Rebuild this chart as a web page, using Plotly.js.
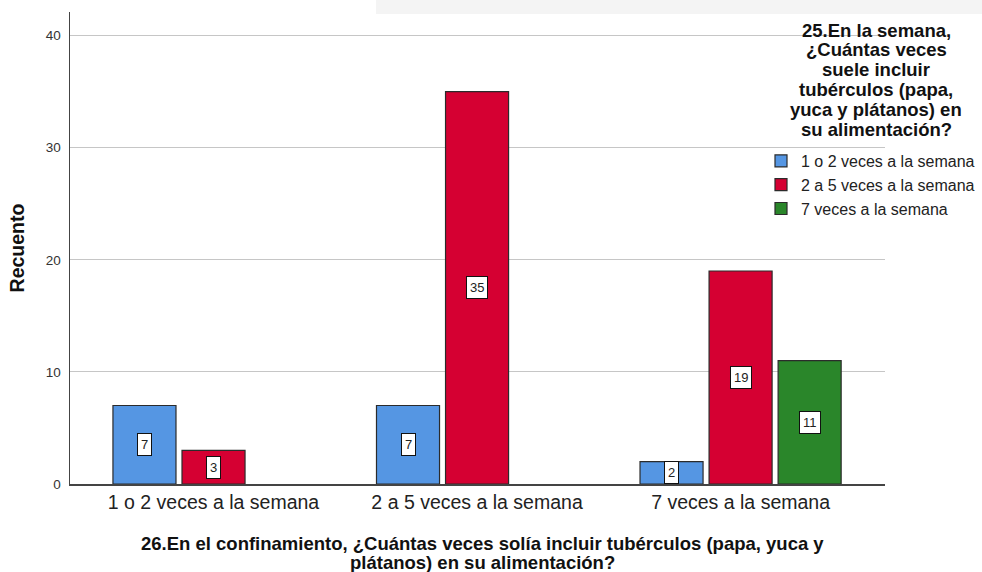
<!DOCTYPE html>
<html><head><meta charset="utf-8">
<script src="https://cdn.plot.ly/plotly-3.0.1.min.js"></script>
<style>html,body{margin:0;padding:0;background:#fff}#chart{width:982px;height:572px}</style>
</head><body><div id="chart"></div>
<script>
const categories = ["1 o 2 veces a la semana", "2 a 5 veces a la semana", "7 veces a la semana"];
const seriesNames = ["1 o 2 veces a la semana", "2 a 5 veces a la semana", "7 veces a la semana"];
const serie1 = [7, 7, 2];
const serie2 = [3, 35, 19];
const serie3 = [null, null, 11];
const yTicks = [0, 10, 20, 30, 40];
const legendTitleLines = ["25.En la semana,", "¿Cuántas veces", "suele incluir", "tubérculos (papa,", "yuca y plátanos) en", "su alimentación?"];
const xTitleLines = ["26.En el confinamiento, ¿Cuántas veces solía incluir tubérculos (papa, yuca y", "plátanos) en su alimentación?"];
const yTitle = "Recuento";

const FONT = "Arial, Liberation Sans, sans-serif";
const colors = ["#5596E3", "#D50032", "#2A862A"];
const allSeries = [serie1, serie2, serie3];
const bargap = 0.214, bargroupgap = 0.087;
const slot = (1 - bargap) / allSeries.length;

// pixel geometry helpers
const W = 982, H = 572, ML = 70, MR = 97, MT = 12, MB = 88;
const PW = W - ML - MR, PH = H - MT - MB;
const px2x = p => (p - ML) / PW;
const px2y = p => 1 - (p - MT) / PH;

const traces = allSeries.map((vals, j) => ({
  type: "bar", name: seriesNames[j], x: categories.map((c, i) => i), y: vals,
  marker: {color: colors[j], line: {color: "#2b2b2b", width: 1.2}},
  hoverinfo: "y"
}));

const annotations = [];
allSeries.forEach((vals, j) => {
  vals.forEach((v, i) => {
    if (v === null || v === undefined) return;
    annotations.push({
      x: i + (j - (allSeries.length - 1) / 2) * slot, y: v / 2, xref: "x", yref: "y",
      text: String(v), showarrow: false, bgcolor: "#ffffff", bordercolor: "#111111",
      borderwidth: 1, borderpad: 3, font: {family: FONT, size: 13, color: "#222"}
    });
  });
});
legendTitleLines.forEach((t, k) => {
  annotations.push({
    x: px2x(876), y: px2y(30 + k * 19.8), xref: "paper", yref: "paper",
    xanchor: "center", yanchor: "middle", showarrow: false,
    text: "<b>" + t + "</b>", font: {family: FONT, size: 18.5, color: "#111"}
  });
});
xTitleLines.forEach((t, k) => {
  annotations.push({
    x: px2x(482), y: px2y(543 + k * 19.5), xref: "paper", yref: "paper",
    xanchor: "center", yanchor: "middle", showarrow: false,
    text: "<b>" + t + "</b>", font: {family: FONT, size: 18.5, color: "#111"}
  });
});

const layout = {
  width: W, height: H,
  margin: {l: ML, r: MR, t: MT, b: MB, autoexpand: false},
  paper_bgcolor: "#ffffff", plot_bgcolor: "#ffffff",
  barmode: "group", bargap: bargap, bargroupgap: bargroupgap,
  font: {family: FONT, color: "#222"},
  xaxis: {
    tickmode: "array", tickvals: categories.map((c, i) => i), ticktext: categories,
    range: [-0.5446, 2.548], showgrid: false, zeroline: false,
    showline: true, linecolor: "#444", linewidth: 1.5, ticks: "",
    tickfont: {size: 19.5, color: "#222"}, automargin: false
  },
  yaxis: {
    range: [0, 42.1], tickmode: "array", tickvals: yTicks, ticktext: yTicks.map(String),
    showgrid: true, gridcolor: "#c6c6c6", gridwidth: 1.2, zeroline: false,
    showline: true, linecolor: "#444", linewidth: 1.5, ticks: "", ticklabelstandoff: 5,
    tickfont: {size: 13.5, color: "#333"}, automargin: false,
    title: {text: "<b>" + yTitle + "</b>", font: {size: 19.5, color: "#111"}, standoff: 16}
  },
  showlegend: true,
  legend: {
    x: px2x(761), xanchor: "left", y: px2y(144), yanchor: "top",
    bgcolor: "rgba(0,0,0,0)", borderwidth: 0,
    font: {size: 16, color: "#222"}, tracegroupgap: 0, itemwidth: 30
  },
  annotations: annotations,
  shapes: [{type: "rect", xref: "paper", yref: "paper", x0: px2x(376), x1: px2x(982), y0: px2y(14), y1: px2y(0),
    fillcolor: "#f4f4f4", line: {width: 0}, layer: "below"}]
};

Plotly.newPlot("chart", traces, layout, {displayModeBar: false, staticPlot: true});
</script></body></html>
